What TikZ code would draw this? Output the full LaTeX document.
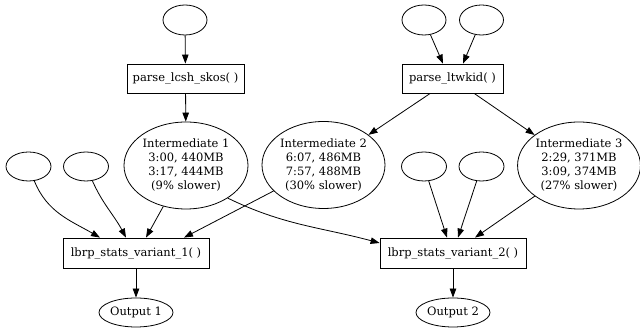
\documentclass[tikz,border=0pt]{standalone}
\usepackage{fontspec}
\setmainfont{DejaVu Serif}
\usetikzlibrary{shapes.geometric,arrows.meta,calc}

\tikzset{
  flow/.style={draw, line width=0.8pt, -{Triangle[length=9pt,width=6.5pt]}},
  blank/.style={draw, ellipse, line width=0.8pt, inner sep=0pt,
                minimum width=44pt, minimum height=30pt},
  midnode/.style={draw, ellipse, line width=0.8pt, inner sep=0pt, align=center,
                  minimum width=124pt, minimum height=87pt,
                  font=\fontsize{11.5pt}{14pt}\selectfont},
  func/.style={draw, rectangle, line width=0.8pt, inner sep=0pt,
               minimum height=29pt, font=\fontsize{11.5pt}{14pt}\selectfont},
  result/.style={draw, ellipse, line width=0.8pt, inner sep=0pt,
                 minimum width=74pt, minimum height=29pt,
                 font=\fontsize{11.5pt}{14pt}\selectfont},
}

\begin{document}
\begin{tikzpicture}[x=1pt, y=1pt]
  \useasboundingbox (0,0) rectangle (640,328);

  % sources of the two parsers
  \node[blank] (a1) at (185,308) {};
  \node[blank] (e1) at (424,308) {};
  \node[blank] (e2) at (481.5,308) {};

  % parsers
  \node[func, minimum width=117pt] (p1) at (185.5,249.5) {parse\_lcsh\_skos( )};
  \node[func, minimum width=101pt] (p2) at (452.5,249.5) {parse\_ltwkid( )};

  % intermediate results
  \node[midnode] (int1) at (186,162.5)
    {Intermediate 1\\3:00, 440MB\\3:17, 444MB\\(9\% slower)};
  \node[midnode, minimum width=123pt] (int2) at (323.5,163)
    {Intermediate 2\\6:07, 486MB\\7:57, 488MB\\(30\% slower)};
  \node[midnode, minimum width=122pt] (int3) at (579,162.5)
    {Intermediate 3\\2:29, 371MB\\3:09, 374MB\\(27\% slower)};

  % extra inputs of the stats variants
  \node[blank, minimum width=45pt, minimum height=29pt] (l1) at (28.5,161.5) {};
  \node[blank, minimum width=45pt, minimum height=29pt] (l2) at (86,161.5) {};
  \node[blank, minimum width=45pt, minimum height=29pt] (r1) at (424,161.5) {};
  \node[blank, minimum width=45pt, minimum height=29pt] (r2) at (481.5,161.5) {};

  % stats variants
  \node[func, minimum width=146pt, minimum height=30pt] (v1) at (136,75) {lbrp\_stats\_variant\_1( )};
  \node[func, minimum width=146pt, minimum height=30pt] (v2) at (453,75) {lbrp\_stats\_variant\_2( )};

  % outputs
  \node[result] (o1) at (136,15.5) {Output 1};
  \node[result] (o2) at (453,15.5) {Output 2};

  % connectors
  \draw[flow] (a1) -- (p1);
  \draw[flow] (e1) -- ($(p2.north)+(-9.5,0)$);
  \draw[flow] (e2) -- ($(p2.north)+(10.5,0)$);
  \draw[flow] (p1) -- (int1);
  \draw[flow] (p2) -- (int2);
  \draw[flow] (p2) -- (int3);

  \draw[flow] (l1) to[out=-68, in=150] ($(v1.north)+(-36,0)$);
  \draw[flow] (l2) to[out=-66, in=118] ($(v1.north)+(-10,0)$);
  \draw[flow] (int1) -- ($(v1.north)+(10,0)$);
  \draw[flow] (int2) -- ($(v1.north)+(48,0)$);

  \draw[flow] (int1.-38) to[out=-26, in=165] ($(v2.west)+(0,10)$);
  \draw[flow] (r1) -- ($(v2.north)+(-6,0)$);
  \draw[flow] (r2) -- ($(v2.north)+(5,0)$);
  \draw[flow] (int3) -- ($(v2.north)+(22,0)$);

  \draw[flow] (v1) -- (o1);
  \draw[flow] (v2) -- (o2);
\end{tikzpicture}
\end{document}
